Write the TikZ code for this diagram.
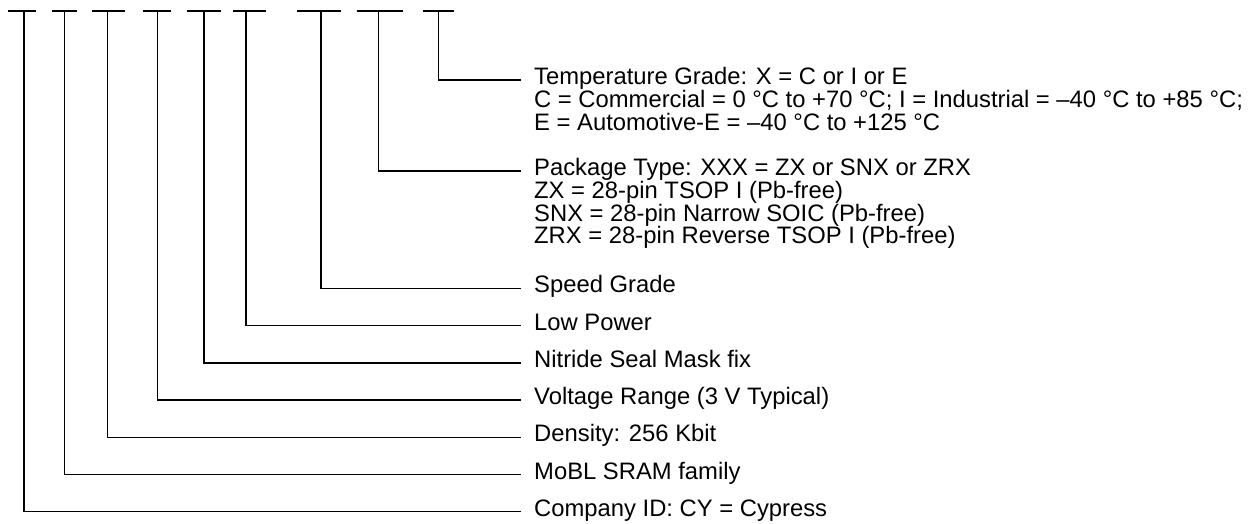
\documentclass[tikz,border=0pt]{standalone}
\usepackage{fontspec}
\setmainfont{Liberation Sans}
\begin{document}
\begin{tikzpicture}[x=1pt,y=-1pt,
  wire/.style={line width=1.4pt,line join=miter},
  lbl/.style={anchor=base west,inner sep=0pt,font=\fontsize{23.8}{22.8}\selectfont}]
\useasboundingbox (0,0) rectangle (1254,523);
% top dashes
\draw[wire] (8.3,11) -- (36,11);
\draw[wire] (52.3,11) -- (77.3,11);
\draw[wire] (91.7,11) -- (125,11);
\draw[wire] (142.7,11) -- (170.7,11);
\draw[wire] (187.3,11) -- (220.7,11);
\draw[wire] (232.7,11) -- (266,11);
\draw[wire] (297.3,11) -- (341,11);
\draw[wire] (356.7,11) -- (403.3,11);
\draw[wire] (422.7,11) -- (454,11);
% tap points
\coordinate (v1) at (24,11);
\coordinate (v2) at (64.3,11);
\coordinate (v3) at (107.3,11);
\coordinate (v4) at (157.3,11);
\coordinate (v5) at (204,11);
\coordinate (v6) at (246,11);
\coordinate (v7) at (320.8,11);
\coordinate (v8) at (378.5,11);
\coordinate (v9) at (438.6,11);
% labels
\node[lbl] (t1) at (534,84.5) {Temperature Grade: X = C or I or E};
\node[lbl] (t2) at (534,107.3) {C = Commercial = 0 °C to +70 °C; I = Industrial = –40 °C to +85 °C;};
\node[lbl] (t3) at (534,130.1) {E = Automotive-E = –40 °C to +125 °C};
\node[lbl] (p1) at (534,175.5) {Package Type: XXX = ZX or SNX or ZRX};
\node[lbl] (p2) at (534,198.3) {ZX = 28-pin TSOP I (Pb-free)};
\node[lbl] (p3) at (534,221.1) {SNX = 28-pin Narrow SOIC (Pb-free)};
\node[lbl] (p4) at (534,243.9) {ZRX = 28-pin Reverse TSOP I (Pb-free)};
\node[lbl] (sg) at (534,292.8) {Speed Grade};
\node[lbl] (lp) at (534,330) {Low Power};
\node[lbl] (ns) at (534,367.3) {Nitride Seal Mask fix};
\node[lbl] (vr) at (534,404.5) {Voltage Range (3 V Typical)};
\node[lbl] (dn) at (534,441.7) {Density: 256 Kbit};
\node[lbl] (mb) at (534,479) {MoBL SRAM family};
\node[lbl] (ci) at (534,516.2) {Company ID: CY = Cypress};
% connectors
\draw[wire] (v9) |- ([shift={(-13pt,4.5pt)}]t1.base west);
\draw[wire] (v8) |- ([shift={(-13pt,4.5pt)}]p1.base west);
\draw[wire] (v7) |- ([shift={(-13pt,4.5pt)}]sg.base west);
\draw[wire] (v6) |- ([shift={(-13pt,4.5pt)}]lp.base west);
\draw[wire] (v5) |- ([shift={(-13pt,4.5pt)}]ns.base west);
\draw[wire] (v4) |- ([shift={(-13pt,4.5pt)}]vr.base west);
\draw[wire] (v3) |- ([shift={(-13pt,4.5pt)}]dn.base west);
\draw[wire] (v2) |- ([shift={(-13pt,4.5pt)}]mb.base west);
\draw[wire] (v1) |- ([shift={(-13pt,4.5pt)}]ci.base west);
\end{tikzpicture}
\end{document}
